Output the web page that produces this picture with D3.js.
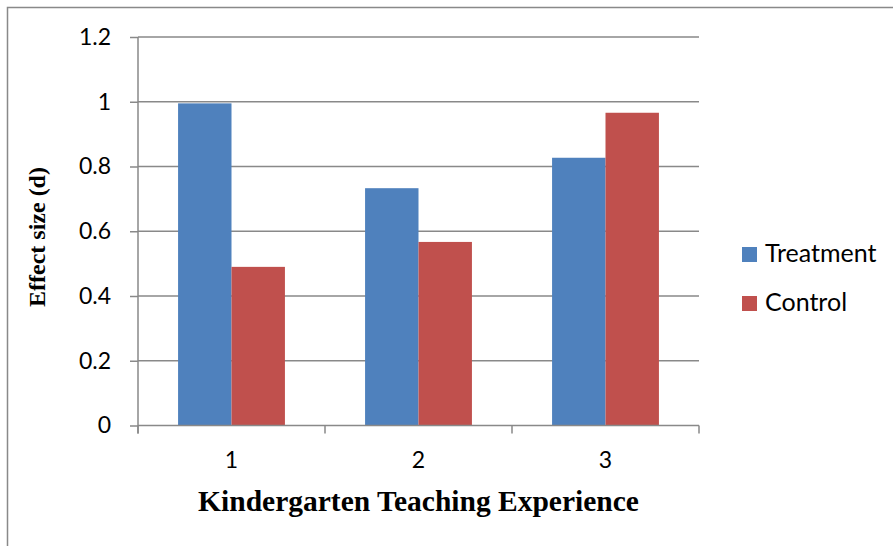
<!DOCTYPE html>
<html>
	<head>
		<style>
			body, html { margin: 0; padding: 0; background: #fff; }
		</style>
	</head>
	<body>
		<svg id="svg" width="893" height="546"></svg>
		<script src="https://d3js.org/d3.v7.min.js"></script>
		<script>
			// data
			const categories = ['1', '2', '3'];
			const seriesNames = ['Treatment', 'Control'];
			const treatment = [0.995, 0.733, 0.827];
			const control = [0.49, 0.567, 0.966];
			const yTicks = [0, 0.2, 0.4, 0.6, 0.8, 1, 1.2];
			const colors = ['#4F81BD', '#C0504D'];

			const svg = d3.select('#svg');
			const plotLeft = 138, plotRight = 699, plotTop = 37, plotBottom = 425.5;
			const grid = '#898989';

			// outer chart border (only left and top show in the crop)
			svg.append('path')
				.attr('d', 'M7.5,546 V7.5 H893')
				.attr('stroke', grid).attr('stroke-width', 1.5).attr('fill', 'none');

			const x = d3.scaleBand().domain(categories).range([plotLeft, plotRight]);
			const xInner = d3.scaleBand().domain(seriesNames).range([0, x.bandwidth()])
				.paddingOuter(0.75).paddingInner(0);
			const y = d3.scaleLinear().domain([0, 1.2]).range([plotBottom, plotTop]);

			// gridlines
			svg.append('g').selectAll('line').data(yTicks.filter(d => d > 0)).enter()
				.append('line')
				.attr('x1', plotLeft).attr('x2', plotRight)
				.attr('y1', d => y(d)).attr('y2', d => y(d))
				.attr('stroke', grid).attr('stroke-width', 1.3);

			// bars
			const rows = categories.map((c, i) => ({ cat: c, vals: [treatment[i], control[i]] }));
			const groups = svg.append('g').selectAll('g').data(rows).enter()
				.append('g').attr('transform', d => `translate(${x(d.cat)},0)`);
			groups.selectAll('rect')
				.data(d => d.vals.map((v, j) => ({ name: seriesNames[j], v: v, j: j })))
				.enter().append('rect')
				.attr('x', d => xInner(d.name))
				.attr('width', xInner.bandwidth())
				.attr('y', d => y(d.v))
				.attr('height', d => y(0) - y(d.v))
				.attr('fill', d => colors[d.j]);

			// axes
			const leftAxis = d3.axisLeft(y).tickValues(yTicks).tickSize(8)
				.tickFormat(d => String(d)).tickPadding(19);
			const gy = svg.append('g').attr('transform', `translate(${plotLeft},0)`).call(leftAxis);
			gy.select('.domain').remove();
			gy.append('line').attr('x1', 0).attr('x2', 0).attr('y1', plotTop).attr('y2', plotBottom + 8)
				.attr('stroke', grid).attr('stroke-width', 1.5);
			gy.selectAll('.tick line').attr('stroke', grid).attr('stroke-width', 1.5);
			gy.selectAll('text').attr('font-family', 'Lato').attr('font-size', 23).attr('fill', '#000');

			const bottomAxis = d3.axisBottom(x).tickSize(0).tickPadding(26);
			const gx = svg.append('g').attr('transform', `translate(0,${plotBottom})`).call(bottomAxis);
			gx.select('.domain').remove();
			gx.append('line').attr('x1', plotLeft).attr('x2', plotRight).attr('y1', 0).attr('y2', 0)
				.attr('stroke', grid).attr('stroke-width', 1.5);
			gx.selectAll('.sep').data(d3.range(categories.length + 1)).enter().append('line')
				.attr('x1', i => plotLeft + i * x.step()).attr('x2', i => plotLeft + i * x.step())
				.attr('y1', 0).attr('y2', 8)
				.attr('stroke', grid).attr('stroke-width', 1.5);
			gx.selectAll('text').attr('font-family', 'Lato').attr('font-size', 23).attr('fill', '#000');

			// axis titles
			svg.append('text')
				.attr('x', (plotLeft + plotRight) / 2).attr('y', 511)
				.attr('text-anchor', 'middle')
				.attr('font-family', 'Liberation Serif').attr('font-weight', 'bold').attr('font-size', 29.5)
				.text('Kindergarten Teaching Experience');
			svg.append('text')
				.attr('transform', 'translate(45,237) rotate(-90)')
				.attr('text-anchor', 'middle')
				.attr('font-family', 'Liberation Serif').attr('font-weight', 'bold').attr('font-size', 24)
				.text('Effect size (d)');

			// legend
			const legend = svg.append('g').selectAll('g').data(seriesNames).enter()
				.append('g').attr('transform', (d, i) => `translate(742,${247 + i * 49})`);
			legend.append('rect').attr('width', 15).attr('height', 15).attr('fill', (d, i) => colors[i]);
			legend.append('text').attr('x', 23).attr('y', 15)
				.attr('font-family', 'Lato').attr('font-size', 25).text(d => d);
		</script>
	</body>
</html>
